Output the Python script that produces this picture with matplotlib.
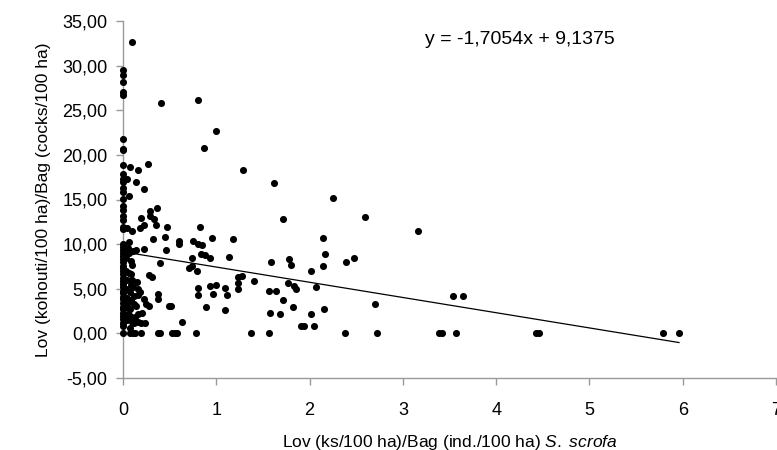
import numpy as np
import matplotlib
matplotlib.use("Agg")
import matplotlib.pyplot as plt

plt.rcParams["font.family"] = ["Liberation Sans", "DejaVu Sans"]
plt.rcParams["mathtext.fontset"] = "custom"
plt.rcParams["mathtext.it"] = "Liberation Sans:italic"
plt.rcParams["mathtext.rm"] = "Liberation Sans"

# points on x = 0
y_at_zero = [29.5, 28.9, 28.2, 27.0, 26.7, 21.8, 20.7, 20.6, 18.9, 17.9, 17.3,
             17.0, 16.3, 15.8, 15.1, 14.3, 13.8, 13.2, 12.7, 11.9, 11.7, 10.0,
             9.7, 9.3, 9.0, 8.7, 8.3, 8.0, 7.6, 7.3, 7.0, 6.6, 6.2, 5.9, 5.5,
             5.2, 4.8, 4.5, 4.1, 3.8, 3.4, 3.0, 2.7, 2.3, 2.0, 1.6, 1.2, 0.8, 0.0]

# points with y = 0
x_at_zero = [0.08, 0.11, 0.13, 0.19, 0.37, 0.40, 0.52, 0.56, 0.58, 0.78, 1.37,
             1.56, 2.38, 2.72, 3.39, 3.42, 3.57, 4.43, 4.46, 5.79, 5.96]

# remaining points (x, y)
x_rest = [0.047, 0.047, 0.05, 0.03, 0.03, 0.04, 0.03, 0.04, 0.03, 0.05, 0.04,
          0.097, 0.41, 0.80, 1.00, 0.87, 0.08, 0.165, 0.265, 1.29, 1.62, 0.14,
          0.23, 0.069, 2.25, 0.36, 0.29, 0.29, 0.33, 0.19, 1.71, 2.59, 0.10,
          0.18, 0.23, 0.35, 0.47, 0.83, 3.16, 0.32, 0.45, 0.60, 0.60, 0.75,
          0.80, 0.85, 0.95, 1.18, 2.14, 0.11, 0.14, 0.225, 0.46, 2.17, 0.086,
          0.093, 0.40, 0.74, 0.835, 0.88, 0.93, 1.14, 1.59, 1.78, 1.80, 2.39,
          2.48, 0.71, 0.74, 0.79, 2.14, 2.01, 0.28, 0.31, 1.23, 1.28, 1.40,
          0.093, 0.086, 0.11, 0.165, 0.80, 0.93, 1.00, 1.09, 1.23, 1.23, 1.77,
          1.83, 1.85, 2.07, 0.80, 0.97, 1.12, 0.16, 0.37, 0.38, 1.57, 1.64,
          1.71, 3.54, 3.65, 0.23, 0.25, 0.28, 0.09, 0.12, 0.14, 0.49, 0.51,
          0.89, 1.82, 2.70, 1.09, 2.16, 0.165, 0.20, 0.075, 0.13, 1.58, 1.68,
          2.02, 0.165, 0.19, 0.10, 0.12, 0.24, 0.63, 1.91, 1.94, 2.05,
          0.06, 0.07, 0.06, 0.08, 0.07, 0.06, 0.15, 0.18, 0.12, 0.06, 0.09]
y_rest = [17.3, 11.8, 9.6, 8.5, 7.0, 6.0, 5.0, 4.0, 3.0, 2.2, 1.5,
          32.6, 25.8, 26.2, 22.7, 20.8, 18.6, 18.3, 19.0, 18.3, 16.9, 17.0,
          16.2, 15.4, 15.2, 14.1, 13.7, 13.1, 12.8, 12.9, 12.8, 13.0, 11.5,
          11.8, 12.1, 12.1, 11.95, 11.95, 11.5, 10.6, 10.8, 10.4, 10.0, 10.4,
          10.05, 9.9, 10.7, 10.6, 10.7, 9.2, 9.3, 9.4, 9.3, 8.85, 8.07,
          7.7, 7.9, 8.5, 8.9, 8.8, 8.4, 8.55, 8.0, 8.3, 7.7, 7.95,
          8.4, 7.3, 7.5, 7.0, 7.5, 6.95, 6.5, 6.3, 6.3, 6.4, 5.9,
          6.0, 5.4, 5.2, 5.0, 5.1, 5.3, 5.45, 5.1, 5.6, 5.0, 5.7,
          5.3, 5.0, 5.2, 4.3, 4.4, 4.25, 4.3, 4.4, 3.9, 4.7, 4.8,
          3.7, 4.2, 4.2, 3.8, 3.3, 3.1, 3.7, 3.3, 3.1, 3.05, 3.05,
          2.9, 2.95, 3.3, 2.6, 2.7, 2.2, 2.3, 2.0, 1.8, 2.3, 2.2,
          2.2, 1.3, 1.2, 1.3, 1.15, 1.2, 1.27, 0.8, 0.86, 0.86,
          6.8, 4.6, 3.5, 2.7, 0.6, 10.2, 5.8, 4.6, 4.2, 9.0, 6.6]

slope = -1.7054
intercept = 9.1375

y_ticks = [-5, 0, 5, 10, 15, 20, 25, 30, 35]
y_tick_labels = ["-5,00", "0,00", "5,00", "10,00", "15,00", "20,00",
                 "25,00", "30,00", "35,00"]
x_ticks = [0, 1, 2, 3, 4, 5, 6, 7]

x = np.array([0.0] * len(y_at_zero) + x_at_zero + x_rest)
y = np.array(y_at_zero + [0.0] * len(x_at_zero) + y_rest)

fig = plt.figure(figsize=(7.77, 4.5), dpi=100)
ax = fig.add_axes([123 / 777, 72 / 450, 653 / 777, 357 / 450])

ax.scatter(x, y, s=26, color="black", linewidths=0, zorder=3, clip_on=False)

xl = np.array([0.0, x.max()])
ax.plot(xl, slope * xl + intercept, color="black", linewidth=0.9, zorder=2)

ax.set_xlim(0, 7)
ax.set_ylim(-5, 35)
ax.set_xticks(x_ticks)
ax.set_yticks(y_ticks)
ax.set_yticklabels(y_tick_labels)

for side in ("top", "right"):
    ax.spines[side].set_visible(False)
for side in ("left", "bottom"):
    ax.spines[side].set_color("#9a9a9a")
    ax.spines[side].set_linewidth(1.0)
ax.tick_params(axis="both", colors="#9a9a9a", labelcolor="black",
               labelsize=13, length=5, width=1.0)
ax.tick_params(axis="y", pad=6)
ax.tick_params(axis="x", pad=12)

ax.set_ylabel("Lov (kohouti/100 ha)/Bag (cocks/100 ha)", fontsize=12.5, labelpad=8)
ax.set_xlabel(r"Lov (ks/100 ha)/Bag (ind./100 ha) $\it{S.\ scrofa}$",
              fontsize=12.5, labelpad=10)

ax.text(0.608, 0.947, "y = -1,7054x + 9,1375", transform=ax.transAxes,
        ha="center", va="center", fontsize=14)

fig.savefig("out.png", dpi=100)
